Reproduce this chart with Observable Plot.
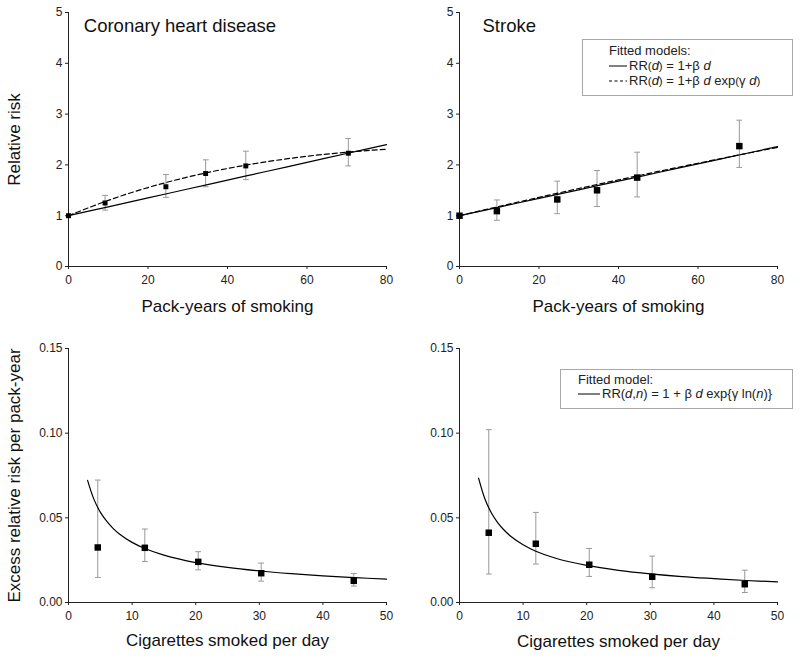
<!DOCTYPE html>
<html><head><meta charset="utf-8">
<script src="https://cdn.jsdelivr.net/npm/d3@7"></script>
<script src="https://cdn.jsdelivr.net/npm/@observablehq/plot@0.6"></script>
<style>
body{margin:0;background:#fff;font-family:"Liberation Sans",Arial,sans-serif;}
#wrap{position:relative;width:800px;height:660px;overflow:hidden;}
.legend{position:absolute;box-sizing:border-box;border:1px solid #a8a8a8;background:#fff;color:#222;font-size:13px;}
.legend .row{position:absolute;white-space:nowrap;line-height:15px;}
.legend svg{vertical-align:middle;margin-right:2px;position:relative;top:-1px;}
.sm{font-size:11.5px;}
</style></head><body><div id="wrap"></div>
<script>
// ---------- data ----------
// Top panels: relative risk by pack-years
const chdPackYears = [0, 9.2, 24.5, 34.5, 44.6, 70.4];
const chdRR        = [1, 1.25, 1.57, 1.83, 1.98, 2.23];
const chdRRlo      = [null, 1.11, 1.36, 1.57, 1.71, 1.98];
const chdRRhi      = [null, 1.40, 1.81, 2.10, 2.27, 2.52];

const strokePackYears = [0, 9.4, 24.6, 34.6, 44.7, 70.4];
const strokeRR        = [1, 1.09, 1.32, 1.50, 1.75, 2.37];
const strokeRRlo      = [null, 0.91, 1.04, 1.18, 1.37, 1.95];
const strokeRRhi      = [null, 1.31, 1.68, 1.89, 2.25, 2.88];

// Fitted model curves
const fitPackYears    = [0, 10, 20, 30, 40, 50, 60, 70, 80];
const chdFitLinear    = [1, 1.175, 1.35, 1.525, 1.70, 1.875, 2.05, 2.225, 2.40];
const chdFitExp       = [1, 1.302, 1.554, 1.761, 1.929, 2.064, 2.170, 2.250, 2.309];
const strokeFitLinear = [1, 1.17, 1.34, 1.51, 1.68, 1.85, 2.02, 2.19, 2.36];
const strokeFitExp    = [1, 1.183, 1.361, 1.535, 1.705, 1.871, 2.033, 2.191, 2.344];

// Bottom panels: excess relative risk per pack-year by cigarettes per day
const cigsPerDay = [4.6, 12.0, 20.4, 30.3, 44.85];
const chdERR     = [0.0325, 0.0323, 0.0240, 0.0173, 0.0128];
const chdERRlo   = [0.0148, 0.0242, 0.0193, 0.0126, 0.0097];
const chdERRhi   = [0.0723, 0.0434, 0.0300, 0.0233, 0.0171];
const strokeERR   = [0.0412, 0.0347, 0.0223, 0.0152, 0.0108];
const strokeERRlo = [0.0168, 0.0227, 0.0154, 0.0087, 0.0059];
const strokeERRhi = [0.1021, 0.0532, 0.0319, 0.0274, 0.0191];

const fitCigs        = [3, 4, 5, 6, 7, 8, 10, 12, 15, 20, 25, 30, 35, 40, 45, 50];
const chdFitCigs     = [0.0721, 0.0609, 0.0534, 0.0480, 0.0438, 0.0405, 0.0355, 0.0319, 0.0280, 0.0236, 0.0207, 0.0186, 0.0170, 0.0157, 0.0147, 0.0138];
const strokeFitCigs  = [0.0734, 0.0611, 0.0530, 0.0472, 0.0428, 0.0393, 0.0341, 0.0303, 0.0263, 0.0219, 0.0190, 0.0169, 0.0153, 0.0141, 0.0130, 0.0122];

// Axis ticks and labels
const packTicks = [0, 20, 40, 60, 80];
const rrTicks = [0, 1, 2, 3, 4, 5];
const cigTicks = [0, 10, 20, 30, 40, 50];
const errTicks = [0, 0.05, 0.10, 0.15];
const panelTitles = ["Coronary heart disease", "Stroke"];
const xTitles = ["Pack-years of smoking", "Cigarettes smoked per day"];
const yTitles = ["Relative risk", "Excess relative risk per pack-year"];

// ---------- helpers ----------
const FONT = '"Liberation Sans", Arial, sans-serif';
const zip = (xs, ys, lo, hi) => xs.map((x, i) => ({x, y: ys[i], lo: lo ? lo[i] : null, hi: hi ? hi[i] : null}));
const wrap = document.getElementById("wrap");

function panel(o) {
  const marks = [
    Plot.axisX({ticks: o.xTicks, tickSize: 3, tickPadding: 6, label: null, fontSize: 12}),
    Plot.axisY({ticks: o.yTicks, tickSize: 3, tickPadding: 3, tickFormat: o.yFormat, label: null, fontSize: 12}),
    Plot.ruleX([o.xDomain[0]], {stroke: "#222", strokeWidth: 1}),
    Plot.ruleY([o.yDomain[0]], {stroke: "#222", strokeWidth: 1}),
    Plot.link(o.points.filter(d => d.lo != null), {x1: "x", x2: "x", y1: "lo", y2: "hi", stroke: "#999", strokeWidth: 1, markerStart: "tick", markerEnd: "tick"}),
    ...o.lines,
    Plot.dot(o.points, {x: "x", y: "y", symbol: "square", fill: "#000", r: o.r}),
    Plot.text([o.xTitle], {text: d => d, frameAnchor: "bottom", lineAnchor: "middle", dy: o.xTitleDy, fontSize: 17, fill: "#111"})
  ];
  if (o.title) marks.push(Plot.text([o.title], {text: d => d, frameAnchor: "top-left", lineAnchor: "top", textAnchor: "start", dx: o.titleDx, dy: 6.6, fontSize: 18.5, fill: "#111"}));
  if (o.yTitle) marks.push(Plot.text([o.yTitle], {text: d => d, frameAnchor: "left", textAnchor: "middle", lineAnchor: "middle", rotate: -90, dx: -53.5, fontSize: 17, fill: "#111"}));
  const p = Plot.plot({
    width: o.width, height: o.height,
    marginLeft: o.ml, marginRight: o.mr, marginTop: o.mt, marginBottom: o.mb,
    style: {fontFamily: FONT, fontSize: "12px", color: "#222", background: "transparent", overflow: "visible"},
    x: {domain: o.xDomain, label: null},
    y: {domain: o.yDomain, label: null},
    marks
  });
  p.style.position = "absolute";
  p.style.left = o.left + "px";
  p.style.top = o.top + "px";
  wrap.appendChild(p);
}

const fitLine = (xs, ys, dash) => Plot.line(zip(xs, ys), {x: "x", y: "y", stroke: "#000", strokeWidth: 1.2, strokeDasharray: dash, curve: "catmull-rom"});

// Top-left: CHD
panel({left: 0, top: 0, width: 400, height: 330, ml: 68, mr: 14, mt: 12, mb: 64,
  xDomain: [0, 80], yDomain: [0, 5], xTicks: packTicks, yTicks: rrTicks, yFormat: d3.format("d"),
  points: zip(chdPackYears, chdRR, chdRRlo, chdRRhi), r: 2.8,
  lines: [fitLine(fitPackYears, chdFitLinear), fitLine(fitPackYears, chdFitExp, "5,3")],
  title: panelTitles[0], titleDx: 15.3, xTitle: xTitles[0], xTitleDy: 39.6, yTitle: yTitles[0]});

// Top-right: Stroke
panel({left: 400, top: 0, width: 400, height: 330, ml: 59, mr: 23, mt: 12, mb: 64,
  xDomain: [0, 80], yDomain: [0, 5], xTicks: packTicks, yTicks: rrTicks, yFormat: d3.format("d"),
  points: zip(strokePackYears, strokeRR, strokeRRlo, strokeRRhi), r: 3.65,
  lines: [fitLine(fitPackYears, strokeFitLinear), fitLine(fitPackYears, strokeFitExp, "5,3")],
  title: panelTitles[1], titleDx: 23, xTitle: xTitles[0], xTitleDy: 39.6});

// Bottom-left: CHD
panel({left: 0, top: 330, width: 400, height: 330, ml: 68, mr: 14, mt: 18, mb: 58,
  xDomain: [0, 50], yDomain: [0, 0.15], xTicks: cigTicks, yTicks: errTicks, yFormat: d3.format(".2f"),
  points: zip(cigsPerDay, chdERR, chdERRlo, chdERRhi), r: 3.65,
  lines: [fitLine(fitCigs, chdFitCigs)],
  xTitle: xTitles[1], xTitleDy: 37.6, yTitle: yTitles[1]});

// Bottom-right: Stroke
panel({left: 400, top: 330, width: 400, height: 330, ml: 59, mr: 23, mt: 18, mb: 58,
  xDomain: [0, 50], yDomain: [0, 0.15], xTicks: cigTicks, yTicks: errTicks, yFormat: d3.format(".2f"),
  points: zip(cigsPerDay, strokeERR, strokeERRlo, strokeERRhi), r: 3.65,
  lines: [fitLine(fitCigs, strokeFitCigs)],
  xTitle: xTitles[1], xTitleDy: 39});

// ---------- legends ----------
const solidSample = w => `<svg width="${w}" height="6"><line x1="0" x2="${w}" y1="3" y2="3" stroke="#000" stroke-width="1"/></svg>`;
const dashSample = w => `<svg width="${w}" height="6"><line x1="0" x2="${w}" y1="3" y2="3" stroke="#000" stroke-width="1" stroke-dasharray="3,2.5"/></svg>`;

const leg1 = document.createElement("div");
leg1.className = "legend";
Object.assign(leg1.style, {left: "582px", top: "39px", width: "211px", height: "57px"});
leg1.innerHTML =
  `<div class="row" style="left:26px;top:3px">Fitted models:</div>` +
  `<div class="row" style="left:26px;top:18px">${solidSample(18)}RR<span class="sm">(</span><i>d</i><span class="sm">)</span> = 1+β <i>d</i></div>` +
  `<div class="row" style="left:26px;top:33px">${dashSample(18)}RR<span class="sm">(</span><i>d</i><span class="sm">)</span> = 1+β <i>d</i> exp<span class="sm">(</span>γ <i>d</i><span class="sm">)</span></div>`;
wrap.appendChild(leg1);

const leg2 = document.createElement("div");
leg2.className = "legend";
Object.assign(leg2.style, {left: "560px", top: "369px", width: "233px", height: "40px"});
leg2.innerHTML =
  `<div class="row" style="left:17px;top:1.5px">Fitted model:</div>` +
  `<div class="row" style="left:17px;top:16px">${solidSample(22)}RR(<i>d</i>,<i>n</i>) = 1 + β <i>d</i> exp{γ ln(<i>n</i>)}</div>`;
wrap.appendChild(leg2);
</script></body></html>
